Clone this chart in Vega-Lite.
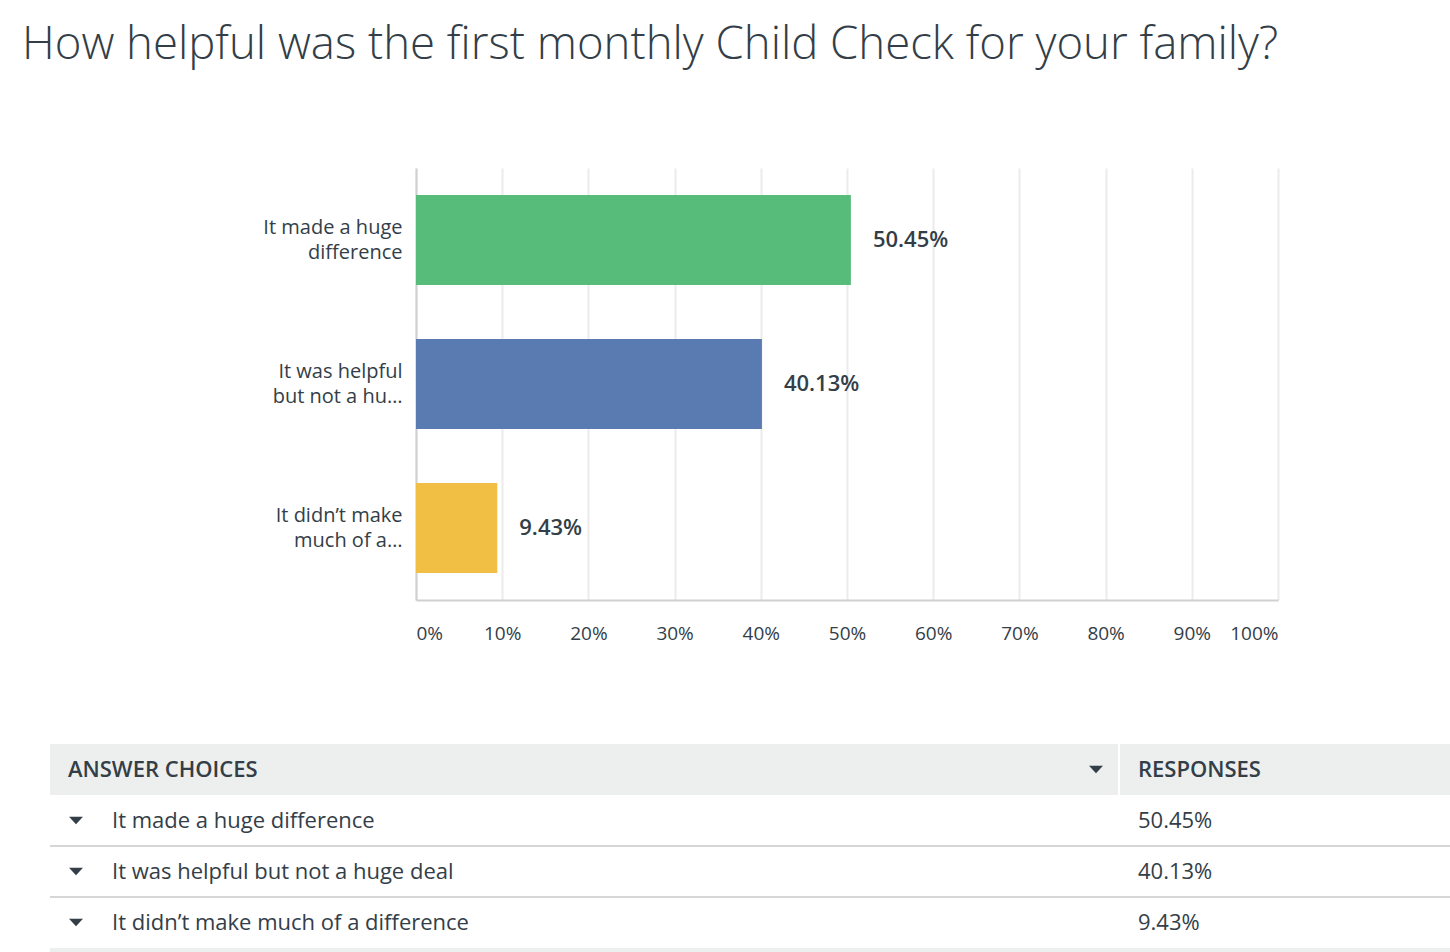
{
  "$schema": "https://vega.github.io/schema/vega-lite/v6.json",
  "background": "#ffffff",
  "padding": {"left": 22, "top": 22, "right": 0, "bottom": 0},
  "config": {"view": {"stroke": null}, "font": "Open Sans"},
  "title": {
    "text": "How helpful was the first monthly Child Check for your family?",
    "anchor": "start",
    "dx": -27,
    "font": "Open Sans",
    "fontSize": 45.5,
    "fontWeight": 300,
    "color": "#333e48",
    "offset": 100
  },
  "datasets": {
    "answers": [
      {"choice": "It made a huge difference", "pct": 0.5045},
      {"choice": "It was helpful but not a huge deal", "pct": 0.4013},
      {"choice": "It didn’t make much of a difference", "pct": 0.0943}
    ]
  },
  "spacing": 101,
  "vconcat": [
    {
      "width": 862,
      "height": 432,
      "data": {"name": "answers"},
      "encoding": {
        "y": {
          "field": "choice",
          "type": "nominal",
          "sort": null,
          "scale": {"paddingInner": 0.375, "paddingOuter": 0.1875},
          "axis": {
            "title": null,
            "ticks": false,
            "domain": true,
            "domainColor": "#d0d0d0",
            "domainWidth": 2,
            "labelFontSize": 20,
            "labelColor": "#333e48",
            "labelPadding": 14,
            "labelLineHeight": 25,
            "labelOffset": -12,
            "labelLimit": 300,
            "minExtent": 366,
            "labelExpr": "datum.value == 'It made a huge difference' ? ['It made a huge', 'difference'] : datum.value == 'It was helpful but not a huge deal' ? ['It was helpful', 'but not a hu…'] : ['It didn’t make', 'much of a…']"
          }
        }
      },
      "layer": [
        {
          "mark": {"type": "bar"},
          "encoding": {
            "x": {
              "field": "pct",
              "type": "quantitative",
              "scale": {"domain": [0, 1], "nice": false},
              "axis": {
                "title": null,
                "values": [0, 0.1, 0.2, 0.3, 0.4, 0.5, 0.6, 0.7, 0.8, 0.9, 1],
                "format": ".0%",
                "grid": true,
                "gridColor": "#ebebeb",
                "gridWidth": 2,
                "ticks": false,
                "domainColor": "#d0d0d0",
                "domainWidth": 2,
                "labelFontSize": 19,
                "labelColor": "#333e48",
                "labelPadding": 24,
                "labelFlush": true
              }
            },
            "color": {
              "field": "choice",
              "type": "nominal",
              "sort": null,
              "scale": {
                "domain": ["It made a huge difference", "It was helpful but not a huge deal", "It didn’t make much of a difference"],
                "range": ["#57bb7a", "#5a7bb1", "#f0bf43"]
              },
              "legend": null
            }
          }
        },
        {
          "mark": {"type": "text", "align": "left", "baseline": "middle", "dx": 22, "fontSize": 22, "fontWeight": 600, "color": "#333e48"},
          "encoding": {
            "x": {"field": "pct", "type": "quantitative"},
            "text": {"field": "pct", "type": "quantitative", "format": ".2%"}
          }
        }
      ]
    },
    {
      "width": 1034,
      "height": 204,
      "encoding": {
        "y": {
          "field": "row",
          "type": "nominal",
          "scale": {
            "domain": ["header", "It made a huge difference", "It was helpful but not a huge deal", "It didn’t make much of a difference"],
            "paddingInner": 0,
            "paddingOuter": 0
          },
          "axis": null
        }
      },
      "layer": [
        {
          "data": {"values": [{"row": "header", "cell": "ANSWER CHOICES"}]},
          "layer": [
            {"mark": {"type": "rect", "x": -366, "x2": 702, "color": "#edeeee"}},
            {"mark": {"type": "text", "x": -348, "align": "left", "baseline": "middle", "fontSize": 22, "fontWeight": 600, "color": "#333e48"}, "encoding": {"text": {"field": "cell"}}},
            {"mark": {"type": "point", "x": 680, "shape": "M-1,-0.55L1,-0.55L0,0.55Z", "size": 196, "filled": true, "opacity": 1, "color": "#333e48"}}
          ]
        },
        {
          "data": {"values": [{"row": "header", "cell": "RESPONSES"}]},
          "layer": [
            {"mark": {"type": "rect", "x": 704, "x2": 1034, "color": "#edeeee"}},
            {"mark": {"type": "text", "x": 722, "align": "left", "baseline": "middle", "fontSize": 22, "fontWeight": 600, "color": "#333e48"}, "encoding": {"text": {"field": "cell"}}}
          ]
        },
        {
          "data": {"values": [{"row": "footer"}]},
          "mark": {"type": "rect", "x": -366, "x2": 1034, "color": "#edeeee"},
          "encoding": {"y": {"value": 204}, "y2": {"value": 208}}
        },
        {
          "data": {"name": "answers"},
          "encoding": {"y": {"field": "choice", "type": "nominal"}},
          "layer": [
            {
              "transform": [{"filter": "datum.choice != 'It made a huge difference'"}],
              "mark": {"type": "rule", "color": "#d6d6d6", "strokeWidth": 2, "x": -366, "x2": 1034},
              "encoding": {"y": {"field": "choice", "type": "nominal", "bandPosition": 0}}
            },
            {"mark": {"type": "point", "x": -340, "shape": "M-1,-0.55L1,-0.55L0,0.55Z", "size": 196, "filled": true, "opacity": 1, "color": "#333e48"}},
            {"mark": {"type": "text", "x": -304, "align": "left", "baseline": "middle", "fontSize": 22, "color": "#333e48"}, "encoding": {"text": {"field": "choice"}}},
            {"mark": {"type": "text", "x": 722, "align": "left", "baseline": "middle", "fontSize": 22, "color": "#333e48"}, "encoding": {"text": {"field": "pct", "type": "quantitative", "format": ".2%"}}}
          ]
        }
      ]
    }
  ]
}
